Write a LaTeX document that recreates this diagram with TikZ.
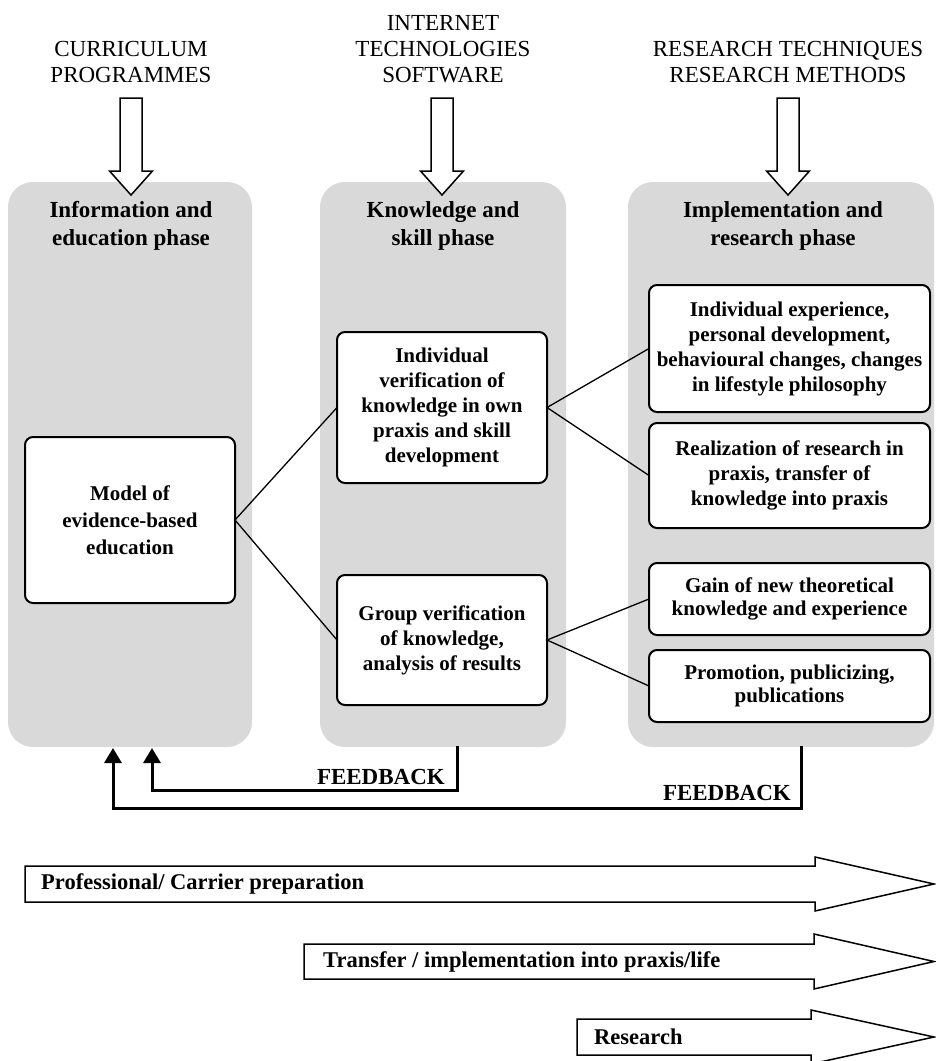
\documentclass[tikz,border=0pt]{standalone}
\usepackage{fontspec}
\setmainfont{Liberation Serif}
\usetikzlibrary{arrows.meta}
\definecolor{panelgray}{RGB}{217,217,217}
\begin{document}
\begin{tikzpicture}[x=1pt,y=-1pt,
  panel/.style={fill=panelgray, rounded corners=25pt, inner sep=0pt, outer sep=0pt},
  ptitle/.style={align=center, inner sep=0pt, font=\fontsize{23}{28}\selectfont\bfseries},
  toplabel/.style={align=center, inner sep=0pt, font=\fontsize{23}{26}\selectfont},
  box/.style={draw, line width=2pt, fill=white, rounded corners=8pt, align=center, inner sep=2pt, outer sep=0pt, font=\fontsize{21}{25}\selectfont\bfseries},
  link/.style={line width=1.3pt},
  hollow/.style={draw, line width=1.5pt, fill=white, line join=miter},
  fb/.style={line width=3pt, -{Triangle[length=15pt,width=17pt]}},
  fblabel/.style={anchor=east, inner sep=0pt, font=\fontsize{23}{26}\selectfont\bfseries},
  barlabel/.style={anchor=west, inner sep=0pt, font=\fontsize{22.5}{26}\selectfont\bfseries}
]
\useasboundingbox (0,0) rectangle (936,1061);

% panels
\node[panel, minimum width=244pt, minimum height=565pt] (p1) at (130,464.5) {};
\node[panel, minimum width=246pt, minimum height=565pt] (p2) at (443,464.5) {};
\node[panel, minimum width=306pt, minimum height=565pt] (p3) at (781,464.5) {};

% top labels
\node[toplabel] (t1) at (131,62) {CURRICULUM\\PROGRAMMES};
\node[toplabel] (t2) at (443,49) {INTERNET\\TECHNOLOGIES\\SOFTWARE};
\node[toplabel] (t3) at (788,62) {RESEARCH TECHNIQUES\\RESEARCH METHODS};

% hollow input arrows
\foreach \cx in {131,442,788}{
  \draw[hollow] (\cx-11,98) -- (\cx+11,98) -- (\cx+11,171) -- (\cx+21.5,171)
     -- (\cx,195) -- (\cx-21.5,171) -- (\cx-11,171) -- cycle;
}

% panel titles
\node[ptitle] (h1) at (131,226) {Information and\\education phase};
\node[ptitle] (h2) at (443,226) {Knowledge and\\skill phase};
\node[ptitle] (h3) at (783,226) {Implementation and\\research phase};

% boxes
\node[box, minimum width=210pt, minimum height=166pt, font=\fontsize{21}{27}\selectfont\bfseries] (lb) at (130,520) {Model of\\evidence-based\\education};
\node[box, minimum width=210pt, minimum height=151pt] (m1) at (442,407.5) {Individual\\verification of\\knowledge in own\\praxis and skill\\development};
\node[box, minimum width=210pt, minimum height=130pt] (m2) at (442,640) {Group verification\\of knowledge,\\analysis of results};
\node[box, minimum width=281pt, minimum height=127pt] (ra) at (789.5,348.5) {Individual experience,\\personal development,\\behavioural changes, changes\\in lifestyle philosophy};
\node[box, minimum width=281pt, minimum height=105pt] (rb) at (789.5,475.5) {Realization of research in\\praxis, transfer of\\knowledge into praxis};
\node[box, minimum width=281pt, minimum height=72pt, font=\fontsize{21}{23}\selectfont\bfseries] (rc) at (789.5,599) {Gain of new theoretical\\knowledge and experience};
\node[box, minimum width=281pt, minimum height=72pt, font=\fontsize{21}{23}\selectfont\bfseries] (rd) at (789.5,686) {Promotion, publicizing,\\publications};

% connectors
\draw[link] (m1.west) -- (lb.east) -- (m2.west);
\draw[link] (ra.west) -- (m1.east) -- (rb.west);
\draw[link] (rc.west) -- (m2.east) -- (rd.west);

% feedback
\coordinate (f1s) at (457,746);
\coordinate (f1e) at (152,748);
\coordinate (f2s) at (801,746);
\coordinate (f2e) at (113,748);
\draw[fb] (f1s) -- ++(0,44) -| (f1e);
\draw[fb] (f2s) -- ++(0,62) -| (f2e);
\node[fblabel] (fl1) at (445,777) {FEEDBACK};
\node[fblabel] (fl2) at (791,793) {FEEDBACK};

% bottom block arrows
\draw[hollow] (25,866) -- (815,866) -- (815,857) -- (934,884) -- (815,911) -- (815,902) -- (25,902) -- cycle;
\draw[hollow] (304,944) -- (814,944) -- (814,934) -- (934,961.5) -- (814,989) -- (814,979) -- (304,979) -- cycle;
\draw[hollow] (577,1019) -- (811,1019) -- (811,1010) -- (934,1037) -- (811,1064) -- (811,1055) -- (577,1055) -- cycle;
\node[barlabel] (b1) at (41,884) {Professional/ Carrier preparation};
\node[barlabel] (b2) at (323,961.5) {Transfer / implementation into praxis/life};
\node[barlabel] (b3) at (594,1037) {Research};
\end{tikzpicture}
\end{document}
